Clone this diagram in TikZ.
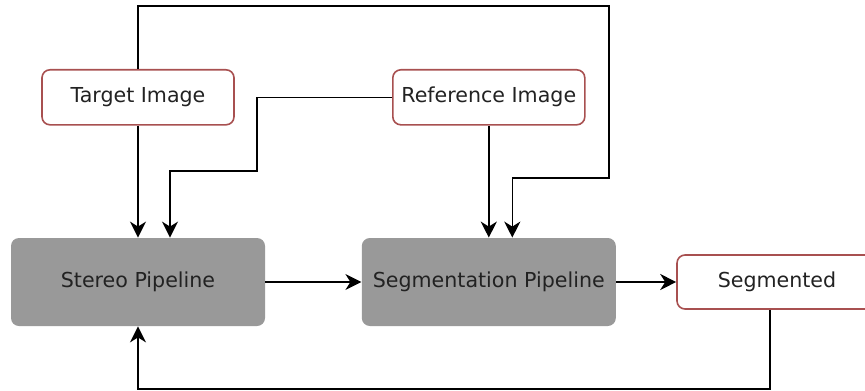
\documentclass[tikz,border=0pt]{standalone}
\usepackage{fontspec}
\setmainfont{DejaVu Sans}
\usetikzlibrary{positioning,arrows.meta}

\definecolor{boxred}{HTML}{A85050}
\definecolor{pipegray}{HTML}{999999}
\definecolor{textgray}{HTML}{222222}

\tikzset{
  imagebox/.style={rectangle,rounded corners=4pt,draw=boxred,line width=0.8pt,fill=white,
    minimum width=96pt,minimum height=27.5pt,inner sep=0pt,text=textgray,font=\fontsize{10.3}{12}\selectfont},
  pipebox/.style={rectangle,rounded corners=4pt,fill=pipegray,
    minimum width=127pt,minimum height=44pt,inner sep=0pt,text=textgray,font=\fontsize{10.3}{12}\selectfont},
  link/.style={draw,line width=0.8pt,-{Stealth[length=8pt,width=8pt,inset=2.5pt]}}
}

\begin{document}
\begin{tikzpicture}[x=0.5pt,y=-0.5pt]
 \useasboundingbox (0,0) rectangle (865,390);

 \node[pipebox] (stereo) at (138,282) {Stereo Pipeline};
 \node[pipebox] (segpipe) [right=48pt of stereo] {Segmentation Pipeline};
 \node[imagebox,minimum width=100pt,minimum height=27pt] (segmented) [right=30pt of segpipe] {Segmented};
 \node[imagebox] (target) [above=56pt of stereo] {Target Image};
 \node[imagebox] (reference) [above=56pt of segpipe] {Reference Image};

% straight links
 \path[link] (target) edge (stereo);
 \path[link] (reference) edge (segpipe);
 \path[link] (stereo) edge (segpipe);
 \path[link] (segpipe) edge (segmented);

% routed links
 \path[link] (target.north) -- ++(0,-63) -| (609,178) -| ([xshift=11.75pt]segpipe.north);
 \path[link] (reference.west) -| (257,171) -| ([xshift=16pt]stereo.north);
 \path[link] ([xshift=-3.5pt]segmented.south) -- ++(0,79) -| (stereo.south);
\end{tikzpicture}
\end{document}
